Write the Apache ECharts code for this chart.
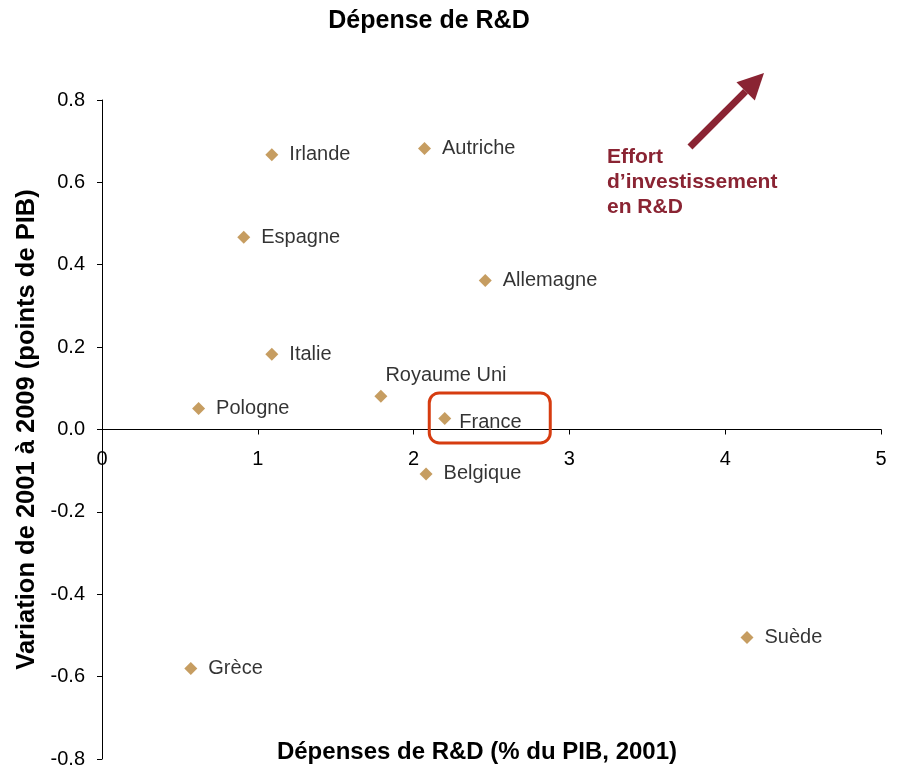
<!DOCTYPE html>
<html>
<head>
<meta charset="utf-8">
<title>Dépense de R&amp;D</title>
<script src="https://cdn.jsdelivr.net/npm/echarts@6/dist/echarts.min.js"></script>
<style>
  html, body { margin: 0; padding: 0; background: #fff; }
  #chart { width: 897px; height: 771px; }
</style>
</head>
<body>
<div id="chart"></div>
<script>
// pays
const countries = ['Irlande', 'Autriche', 'Espagne', 'Allemagne', 'Italie', 'Royaume Uni',
  'Pologne', 'France', 'Belgique', 'Suède', 'Grèce'];
// dépenses de R&D en % du PIB, 2001
const rdSpend = [1.09, 2.07, 0.91, 2.46, 1.09, 1.79, 0.62, 2.2, 2.08, 4.14, 0.57];
// variation 2001-2009 en points de PIB
const variation = [0.667, 0.682, 0.467, 0.362, 0.183, 0.081, 0.051, 0.027, -0.108, -0.505, -0.58];
const xTicks = [0, 1, 2, 3, 4, 5];
const yTicks = [-0.8, -0.6, -0.4, -0.2, 0, 0.2, 0.4, 0.6, 0.8];

const FONT = '"Liberation Sans", Arial, sans-serif';
const markerColor = '#B8843A';
const arrowColor = '#8A2433';

const gridTop = 100, gridBottom = 12, H = 771;
const yMin = yTicks[0], yMax = yTicks[yTicks.length - 1];
// axe X placé sur y = 0
const xAxisOffset = -(H - gridTop - gridBottom) * (0 - yMin) / (yMax - yMin);

// placement des étiquettes
const labelSpecial = {
  'Royaume Uni': { position: [11, -14], align: 'left', verticalAlign: 'middle' },
  'France': { position: 'right', distance: 8, offset: [0, 4] }
};

const data = countries.map((name, i) => {
  const lab = Object.assign({ position: 'right', distance: 11 }, labelSpecial[name] || {});
  return { name: name, value: [rdSpend[i], variation[i]], label: lab };
});

const chart = echarts.init(document.getElementById('chart'));
const option = {
  animation: false,
  textStyle: { fontFamily: FONT },
  grid: { left: 102, right: 16, top: gridTop, bottom: gridBottom, containLabel: false, outerBoundsMode: 'none' },
  xAxis: {
    type: 'value',
    min: xTicks[0],
    max: xTicks[xTicks.length - 1],
    interval: 1,
    position: 'bottom',
    offset: xAxisOffset,
    axisLine: { onZero: false, lineStyle: { color: '#000', width: 1 } },
    axisTick: { length: 5, lineStyle: { color: '#000' } },
    axisLabel: { color: '#000', fontSize: 20, margin: 20, fontFamily: FONT, hideOverlap: false },
    splitLine: { show: false }
  },
  yAxis: {
    type: 'value',
    min: yMin,
    max: yMax,
    interval: 0.2,
    name: 'Variation de 2001 à 2009 (points de PIB)',
    nameLocation: 'middle',
    nameGap: 58,
    nameRotate: 90,
    nameTextStyle: { color: '#000', fontSize: 25.5, fontWeight: 'bold', fontFamily: FONT },
    axisLine: { onZero: false, lineStyle: { color: '#000', width: 1 } },
    axisTick: { length: 5, lineStyle: { color: '#000' } },
    axisLabel: {
      color: '#000', fontSize: 20, margin: 17, fontFamily: FONT, hideOverlap: false,
      formatter: v => v.toFixed(1)
    },
    splitLine: { show: false }
  },
  series: [{
    type: 'scatter',
    symbol: 'diamond',
    symbolSize: 13,
    itemStyle: { color: markerColor },
    label: {
      show: true,
      formatter: '{b}',
      color: '#000',
      fontSize: 20,
      fontFamily: FONT
    },
    data: data
  }]
};
chart.setOption(option);

// annotations : titre, nom de l'axe X, encadré France, flèche
const fr = chart.convertToPixel({ seriesIndex: 0 }, [rdSpend[7], variation[7]]);
const tip = [764, 73];
const tail = [690, 147];
const ang = Math.atan2(tip[1] - tail[1], tip[0] - tail[0]);
const headLen = 26, headHalf = 13;
const base = [tip[0] - headLen * Math.cos(ang), tip[1] - headLen * Math.sin(ang)];
const px = -Math.sin(ang), py = Math.cos(ang);

chart.setOption({
  graphic: [
    {
      type: 'text', x: 429, y: 21,
      style: { text: 'Dépense de R&D', font: 'bold 25px ' + FONT, fill: '#000', align: 'center', verticalAlign: 'middle' }
    },
    {
      type: 'text', x: 477, y: 752,
      style: { text: 'Dépenses de R&D (% du PIB, 2001)', font: 'bold 24px ' + FONT, fill: '#000', align: 'center', verticalAlign: 'middle' }
    },
    {
      type: 'rect',
      shape: { x: fr[0] - 15.5, y: fr[1] - 25.5, width: 121, height: 50, r: 10 },
      style: { fill: 'none', stroke: '#D63C10', lineWidth: 3 },
      z: 10
    },
    {
      type: 'line',
      shape: { x1: tail[0], y1: tail[1], x2: base[0], y2: base[1] },
      style: { stroke: arrowColor, lineWidth: 7 },
      z: 10
    },
    {
      type: 'polygon',
      shape: { points: [tip, [base[0] + px * headHalf, base[1] + py * headHalf], [base[0] - px * headHalf, base[1] - py * headHalf]] },
      style: { fill: arrowColor },
      z: 10
    },
    {
      type: 'text', x: 607, y: 144.5,
      style: {
        text: 'Effort\nd’investissement\nen R&D',
        font: 'bold 21px ' + FONT, lineHeight: 25, fill: arrowColor,
        align: 'left', verticalAlign: 'top'
      },
      z: 10
    }
  ]
});
</script>
</body>
</html>
